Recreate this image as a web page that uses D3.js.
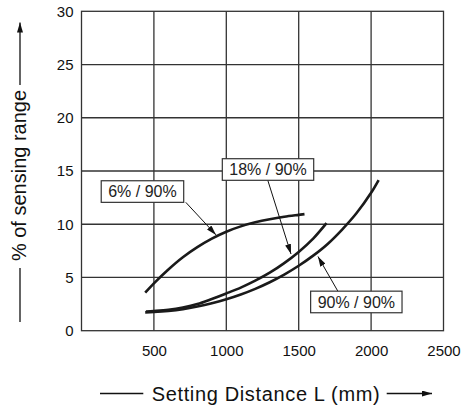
<!DOCTYPE html>
<html>
<head>
<meta charset="utf-8">
<script src="https://cdn.jsdelivr.net/npm/d3@7"></script>
<style>
  body { margin: 0; background: #fff; }
  svg { display: block; font-family: "Liberation Sans", Arial, sans-serif; }
</style>
</head>
<body>
<svg id="chart"></svg>
<script>
const width = 468;
const height = 408;
const margin = { top: 11.3, right: 24.5, bottom: 77.3, left: 81.5 };

// tick labels
const xTicks = [500, 1000, 1500, 2000, 2500];
const yTicks = [0, 5, 10, 15, 20, 25, 30];

// 6% / 90% curve
const dist6 = [440, 500, 600, 700, 800, 900, 1000, 1100, 1200, 1300, 1400, 1500, 1540];
const pct6 = [3.57, 4.45, 5.75, 6.9, 7.85, 8.65, 9.3, 9.8, 10.18, 10.47, 10.7, 10.88, 10.95];

// 18% / 90% curve
const dist18 = [445, 500, 600, 700, 800, 900, 1000, 1100, 1200, 1300, 1400, 1500, 1600, 1692];
const pct18 = [1.8, 1.85, 1.97, 2.18, 2.5, 2.98, 3.5, 4.05, 4.7, 5.45, 6.35, 7.4, 8.65, 10.1];

// 90% / 90% curve
const dist90 = [440, 500, 600, 700, 800, 900, 1000, 1100, 1200, 1300, 1400, 1500, 1600, 1700, 1800, 1900, 2000, 2052];
const pct90 = [1.72, 1.75, 1.85, 2.02, 2.27, 2.58, 2.95, 3.4, 3.93, 4.55, 5.27, 6.1, 7.05, 8.15, 9.5, 11.05, 12.95, 14.15];

// callout labels: box centre, arrow start, arrow tip (data units)
const calloutLabels = ["6% / 90%", "18% / 90%", "90% / 90%"];
const calloutBox = [[421, 13.07], [1288, 15.14], [1898, 2.7]];
const calloutFrom = [[720, 12.06], [1286, 14.15], [1773, 3.65]];
const calloutTo = [[929, 9.0], [1447, 7.2], [1633, 6.97]];

const svg = d3.select("#chart")
    .attr("width", width)
    .attr("height", height);

const x = d3.scaleLinear().domain([0, 2500]).range([margin.left, width - margin.right]);
const y = d3.scaleLinear().domain([0, 30]).range([height - margin.bottom, margin.top]);

svg.append("defs").append("marker")
    .attr("id", "head")
    .attr("markerUnits", "userSpaceOnUse")
    .attr("viewBox", "0 0 10 6")
    .attr("refX", 10).attr("refY", 3)
    .attr("markerWidth", 10).attr("markerHeight", 6)
    .attr("orient", "auto")
    .append("path")
    .attr("d", "M0,0L10,3L0,6Z")
    .attr("fill", "#111");

// grid
const grid = svg.append("g").attr("stroke", "#333").attr("stroke-width", 1.3);
grid.selectAll("line.v")
    .data(xTicks.slice(0, -1))
    .join("line")
    .attr("class", "v")
    .attr("x1", d => x(d)).attr("x2", d => x(d))
    .attr("y1", y(0)).attr("y2", y(30));
grid.selectAll("line.h")
    .data(yTicks.slice(1, -1))
    .join("line")
    .attr("class", "h")
    .attr("x1", x(0)).attr("x2", x(2500))
    .attr("y1", d => y(d)).attr("y2", d => y(d));
grid.append("rect")
    .attr("x", x(0)).attr("y", y(30))
    .attr("width", x(2500) - x(0)).attr("height", y(0) - y(30))
    .attr("fill", "none");

// axes (labels only)
const xAxis = svg.append("g")
    .attr("transform", `translate(0,${y(0)})`)
    .call(d3.axisBottom(x).tickValues(xTicks).tickFormat(d3.format("d")).tickSize(0).tickPadding(15));
const yAxis = svg.append("g")
    .attr("transform", `translate(${x(0)},0)`)
    .call(d3.axisLeft(y).tickValues(yTicks).tickFormat(d3.format("d")).tickSize(0).tickPadding(8));
[xAxis, yAxis].forEach(a => {
    a.select(".domain").remove();
    a.selectAll("text")
        .attr("font-family", "Liberation Sans, Arial, sans-serif")
        .attr("font-size", 15)
        .attr("fill", "#111");
});

// curves
const line = d3.line()
    .x(d => x(d[0]))
    .y(d => y(d[1]))
    .curve(d3.curveCatmullRom.alpha(0.5));

const series = [
    d3.zip(dist6, pct6),
    d3.zip(dist18, pct18),
    d3.zip(dist90, pct90)
];

svg.append("g")
    .selectAll("path")
    .data(series)
    .join("path")
    .attr("d", line)
    .attr("fill", "none")
    .attr("stroke", "#1a1a1a")
    .attr("stroke-width", 2.6);

// callouts
calloutLabels.forEach((label, i) => {
    svg.append("line")
        .attr("x1", x(calloutFrom[i][0])).attr("y1", y(calloutFrom[i][1]))
        .attr("x2", x(calloutTo[i][0])).attr("y2", y(calloutTo[i][1]))
        .attr("stroke", "#111")
        .attr("stroke-width", 1)
        .attr("marker-end", "url(#head)");

    const g = svg.append("g");
    const t = g.append("text")
        .attr("x", x(calloutBox[i][0]))
        .attr("y", y(calloutBox[i][1]))
        .attr("dy", "0.35em")
        .attr("text-anchor", "middle")
        .attr("font-size", 16)
        .attr("fill", "#222")
        .text(label);
    const bb = t.node().getBBox();
    g.insert("rect", "text")
        .attr("x", bb.x - 7).attr("y", y(calloutBox[i][1]) - 10.8)
        .attr("width", bb.width + 14).attr("height", 21.6)
        .attr("fill", "#fff")
        .attr("stroke", "#333")
        .attr("stroke-width", 1.2);
});

// x title with arrow
svg.append("text")
    .attr("x", 265.7).attr("y", 401)
    .attr("text-anchor", "middle")
    .attr("font-size", 20)
    .attr("textLength", 228)
    .attr("fill", "#111")
    .text("Setting Distance L (mm)");
svg.append("line")
    .attr("x1", 100).attr("x2", 143.3)
    .attr("y1", 393.5).attr("y2", 393.5)
    .attr("stroke", "#111").attr("stroke-width", 1.3);
svg.append("line")
    .attr("x1", 386.7).attr("x2", 432)
    .attr("y1", 393.5).attr("y2", 393.5)
    .attr("stroke", "#111").attr("stroke-width", 1.3)
    .attr("marker-end", "url(#head)");

// y title with arrow
svg.append("text")
    .attr("transform", "translate(26,175.5) rotate(-90)")
    .attr("text-anchor", "middle")
    .attr("font-size", 20)
    .attr("fill", "#111")
    .text("% of sensing range");
svg.append("line")
    .attr("x1", 20).attr("x2", 20)
    .attr("y1", 322).attr("y2", 268)
    .attr("stroke", "#111").attr("stroke-width", 1.3);
svg.append("line")
    .attr("x1", 20).attr("x2", 20)
    .attr("y1", 85).attr("y2", 22.5)
    .attr("stroke", "#111").attr("stroke-width", 1.3)
    .attr("marker-end", "url(#head)");
</script>
</body>
</html>
